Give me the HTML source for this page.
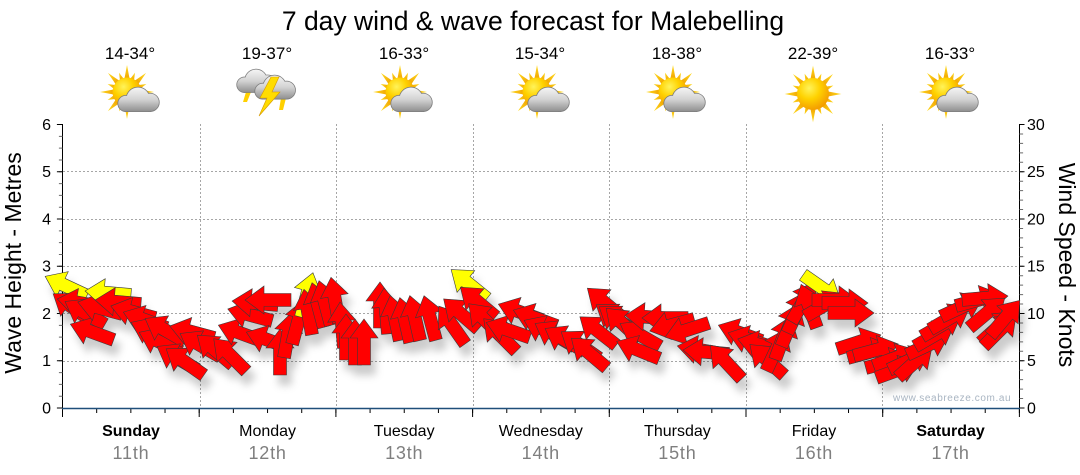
<!DOCTYPE html>
<html>
<head>
<meta charset="utf-8">
<style>
html,body{margin:0;padding:0;background:#fff;}
svg{display:block;}
text{font-family:"Liberation Sans",Arial,sans-serif;}
</style>
</head>
<body>
<svg width="1080" height="475" viewBox="0 0 1080 475" xmlns="http://www.w3.org/2000/svg">
<defs>
  <radialGradient id="sunG" cx="0.38" cy="0.32" r="0.75">
    <stop offset="0" stop-color="#fff35a"/>
    <stop offset="0.45" stop-color="#ffd200"/>
    <stop offset="1" stop-color="#f29400"/>
  </radialGradient>
  <linearGradient id="rayG" x1="0" y1="0" x2="0" y2="1">
    <stop offset="0" stop-color="#ffdc20"/>
    <stop offset="1" stop-color="#f0a000"/>
  </linearGradient>
  <linearGradient id="cloudG" gradientUnits="userSpaceOnUse" x1="0" y1="0" x2="0" y2="23">
    <stop offset="0" stop-color="#f6f6f6"/>
    <stop offset="0.5" stop-color="#d2d2d2"/>
    <stop offset="1" stop-color="#8a8a8a"/>
  </linearGradient>
  <g id="ray1"><path d="M-2.8,-12 L0,-27 L2.8,-12Z"/></g>
  <g id="ray2"><path d="M-2.4,-12 L0,-21 L2.4,-12Z"/></g>
  <g id="rays" fill="url(#rayG)">
    <use href="#ray1"/>
    <use href="#ray1" transform="rotate(45)"/>
    <use href="#ray1" transform="rotate(90)"/>
    <use href="#ray1" transform="rotate(135)"/>
    <use href="#ray1" transform="rotate(180)"/>
    <use href="#ray1" transform="rotate(225)"/>
    <use href="#ray1" transform="rotate(270)"/>
    <use href="#ray1" transform="rotate(315)"/>
    <use href="#ray2" transform="rotate(22.5)"/>
    <use href="#ray2" transform="rotate(67.5)"/>
    <use href="#ray2" transform="rotate(112.5)"/>
    <use href="#ray2" transform="rotate(157.5)"/>
    <use href="#ray2" transform="rotate(202.5)"/>
    <use href="#ray2" transform="rotate(247.5)"/>
    <use href="#ray2" transform="rotate(292.5)"/>
    <use href="#ray2" transform="rotate(337.5)"/>
  </g>
  <g id="sun">
    <use href="#rays"/>
    <circle r="14.5" fill="url(#sunG)"/>
  </g>
  <g id="cshape">
    <circle cx="9" cy="15" r="7"/>
    <circle cx="20" cy="11" r="10.5"/>
    <circle cx="31" cy="14" r="8"/>
    <rect x="9" y="13" width="22" height="9"/>
  </g>
  <g id="cloud">
    <use href="#cshape" fill="#7a7a7a" stroke="#7a7a7a" stroke-width="1.4"/>
    <use href="#cshape" fill="url(#cloudG)"/>
  </g>
  <g id="sunCloud">
    <use href="#sun" transform="translate(-4,92)"/>
    <use href="#cloud" transform="translate(-15,87) scale(1.1)"/>
  </g>
  <path id="ar" d="M-23,-6.5 L4,-6.5 L4,-14 L23,0 L4,14 L4,6.5 L-23,6.5 Z"/>
</defs>

<!-- Title -->
<text x="533" y="30" font-size="26.5" text-anchor="middle" fill="#000">7 day wind &amp; wave forecast for Malebelling</text>

<!-- Temperatures -->
<g font-size="17" text-anchor="middle" fill="#000">
  <text x="130" y="59">14-34°</text>
  <text x="267" y="59">19-37°</text>
  <text x="404" y="59">16-33°</text>
  <text x="540" y="59">15-34°</text>
  <text x="677" y="59">18-38°</text>
  <text x="813" y="59">22-39°</text>
  <text x="950" y="59">16-33°</text>
</g>

<!-- Icons -->
<use href="#sunCloud" transform="translate(131,0)"/>
<g>
  <path d="M246,92 L251,92 L247,102 L243,102Z" fill="#ffd000"/>
  <path d="M281,98 L286,98 L283,110 L279,110Z" fill="#ffd000"/>
  <use href="#cloud" transform="translate(235,69) scale(1.05,1.05)"/>
  <use href="#cloud" transform="translate(253,75) scale(1.08,1.08)"/>
  <path d="M271,77 L260,98 L267,98 L259,116 L280,92 L272,92 L279,77 Z" fill="#ffdc00" stroke="#d79a00" stroke-width="0.6"/>
</g>
<use href="#sunCloud" transform="translate(404,0)"/>
<use href="#sunCloud" transform="translate(541,0)"/>
<use href="#sunCloud" transform="translate(677,0)"/>
<g transform="translate(813,94)">
  <g transform="scale(1.05)"><use href="#rays"/></g>
  <circle r="16" fill="url(#sunG)"/>
</g>
<use href="#sunCloud" transform="translate(950,0)"/>

<!-- Grid -->
<g stroke="#a6a6a6" stroke-width="1" stroke-dasharray="2,2" fill="none">
  <line x1="63" y1="361.5" x2="1019" y2="361.5"/>
  <line x1="63" y1="313.5" x2="1019" y2="313.5"/>
  <line x1="63" y1="266.5" x2="1019" y2="266.5"/>
  <line x1="63" y1="219.5" x2="1019" y2="219.5"/>
  <line x1="63" y1="171.5" x2="1019" y2="171.5"/>
  <line x1="200.5" y1="124" x2="200.5" y2="408"/>
  <line x1="336.5" y1="124" x2="336.5" y2="408"/>
  <line x1="473.5" y1="124" x2="473.5" y2="408"/>
  <line x1="609.5" y1="124" x2="609.5" y2="408"/>
  <line x1="746.5" y1="124" x2="746.5" y2="408"/>
  <line x1="882.5" y1="124" x2="882.5" y2="408"/>
</g>

<!-- Axes -->
<line x1="62.5" y1="124" x2="62.5" y2="409" stroke="#000" stroke-width="1"/>
<line x1="1019.5" y1="124" x2="1019.5" y2="409" stroke="#000" stroke-width="1"/>
<line x1="60.7" y1="124" x2="60.7" y2="409" stroke="#6a6a6a" stroke-width="3.6" stroke-dasharray="1 10.8125"/>
<line x1="59.7" y1="124" x2="59.7" y2="409" stroke="#000" stroke-width="5.6" stroke-dasharray="1 46.25"/>
<line x1="1021.3" y1="124" x2="1021.3" y2="409" stroke="#6a6a6a" stroke-width="3.6" stroke-dasharray="1 8.45"/>
<line x1="1022" y1="124" x2="1022" y2="409" stroke="#000" stroke-width="5" stroke-dasharray="1 46.25"/>
<line x1="62" y1="410.5" x2="1021" y2="410.5" stroke="#000" stroke-width="5" stroke-dasharray="1 33.175"/>
<line x1="62" y1="412.5" x2="1021" y2="412.5" stroke="#000" stroke-width="9" stroke-dasharray="1 135.7"/>
<line x1="62" y1="408.5" x2="1020" y2="408.5" stroke="#1f4f7a" stroke-width="1.4"/>

<!-- Left axis labels -->
<g font-size="16" text-anchor="end" fill="#000">
  <text x="51" y="413.5">0</text>
  <text x="51" y="366.2">1</text>
  <text x="51" y="319">2</text>
  <text x="51" y="271.7">3</text>
  <text x="51" y="224.5">4</text>
  <text x="51" y="177.2">5</text>
  <text x="51" y="130">6</text>
</g>
<!-- Right axis labels -->
<g font-size="16" text-anchor="start" fill="#000">
  <text x="1027" y="413.5">0</text>
  <text x="1027" y="366.2">5</text>
  <text x="1027" y="319">10</text>
  <text x="1027" y="271.7">15</text>
  <text x="1027" y="224.5">20</text>
  <text x="1027" y="177.2">25</text>
  <text x="1027" y="130">30</text>
</g>

<text transform="translate(21,263) rotate(-90)" font-size="23" text-anchor="middle" fill="#000">Wave Height - Metres</text>
<text transform="translate(1059,265) rotate(90)" font-size="23" text-anchor="middle" fill="#000">Wind Speed - Knots</text>

<!-- Day labels -->
<g font-size="16" text-anchor="middle" fill="#000">
  <text x="131" y="436" font-weight="bold">Sunday</text>
  <text x="267.6" y="436">Monday</text>
  <text x="404.2" y="436">Tuesday</text>
  <text x="540.8" y="436">Wednesday</text>
  <text x="677.4" y="436">Thursday</text>
  <text x="814" y="436">Friday</text>
  <text x="950.6" y="436" font-weight="bold">Saturday</text>
</g>
<g font-size="18" text-anchor="middle" fill="#7f7f7f" letter-spacing="0.8">
  <text x="131" y="459">11th</text>
  <text x="267.6" y="459">12th</text>
  <text x="404.2" y="459">13th</text>
  <text x="540.8" y="459">14th</text>
  <text x="677.4" y="459">15th</text>
  <text x="814" y="459">16th</text>
  <text x="950.6" y="459">17th</text>
</g>

<text x="893" y="401" font-size="10" letter-spacing="0.6" fill="#a9b5c2">www.seabreeze.com.au</text>

<!-- Wind arrows -->
<g style="filter:drop-shadow(5px 10px 4px rgba(0,0,0,0.2))" stroke="#3a3a3a" stroke-width="0.6" stroke-linejoin="miter">
  <use href="#ar" fill="#ffff00" transform="translate(66,286) rotate(205)"/>
  <use href="#ar" fill="#ff0000" transform="translate(72,307) rotate(215)"/>
  <use href="#ar" fill="#ff0000" transform="translate(80,303) rotate(190)"/>
  <use href="#ar" fill="#ff0000" transform="translate(85,313) rotate(210)"/>
  <use href="#ar" fill="#ff0000" transform="translate(92,332) rotate(200)"/>
  <use href="#ar" fill="#ff0000" transform="translate(100,308) rotate(195)"/>
  <use href="#ar" fill="#ffff00" transform="translate(108,293) rotate(185)"/>
  <use href="#ar" fill="#ff0000" transform="translate(118,302) rotate(185)"/>
  <use href="#ar" fill="#ff0000" transform="translate(133,312) rotate(195)"/>
  <use href="#ar" fill="#ff0000" transform="translate(145,320) rotate(200)"/>
  <use href="#ar" fill="#ff0000" transform="translate(152,332) rotate(205)"/>
  <use href="#ar" fill="#ff0000" transform="translate(160,342) rotate(205)"/>
  <use href="#ar" fill="#ff0000" transform="translate(165,330) rotate(210)"/>
  <use href="#ar" fill="#ff0000" transform="translate(177,358) rotate(210)"/>
  <use href="#ar" fill="#ff0000" transform="translate(185,362) rotate(215)"/>
  <use href="#ar" fill="#ff0000" transform="translate(192,332) rotate(195)"/>
  <use href="#ar" fill="#ff0000" transform="translate(200,345) rotate(210)"/>
  <use href="#ar" fill="#ff0000" transform="translate(215,350) rotate(220)"/>
  <use href="#ar" fill="#ff0000" transform="translate(230,355) rotate(225)"/>
  <use href="#ar" fill="#ff0000" transform="translate(240,333) rotate(200)"/>
  <use href="#ar" fill="#ff0000" transform="translate(250,315) rotate(195)"/>
  <use href="#ar" fill="#ff0000" transform="translate(255,303) rotate(185)"/>
  <use href="#ar" fill="#ff0000" transform="translate(268,300) rotate(180)"/>
  <use href="#ar" fill="#ff0000" transform="translate(268,340) rotate(200)"/>
  <use href="#ar" fill="#ff0000" transform="translate(280,352) rotate(270)"/>
  <use href="#ar" fill="#ff0000" transform="translate(288,335) rotate(280)"/>
  <use href="#ar" fill="#ff0000" transform="translate(298,322) rotate(285)"/>
  <use href="#ar" fill="#ffff00" transform="translate(307,295) rotate(285)"/>
  <use href="#ar" fill="#ff0000" transform="translate(308,312) rotate(260)"/>
  <use href="#ar" fill="#ff0000" transform="translate(318,305) rotate(255)"/>
  <use href="#ar" fill="#ff0000" transform="translate(325,303) rotate(255)"/>
  <use href="#ar" fill="#ff0000" transform="translate(335,300) rotate(260)"/>
  <use href="#ar" fill="#ff0000" transform="translate(342,325) rotate(265)"/>
  <use href="#ar" fill="#ff0000" transform="translate(346,337) rotate(270)"/>
  <use href="#ar" fill="#ff0000" transform="translate(355,342) rotate(270)"/>
  <use href="#ar" fill="#ff0000" transform="translate(364,342) rotate(270)"/>
  <use href="#ar" fill="#ff0000" transform="translate(380,305) rotate(270)"/>
  <use href="#ar" fill="#ff0000" transform="translate(386,311) rotate(265)"/>
  <use href="#ar" fill="#ff0000" transform="translate(395,318) rotate(258)"/>
  <use href="#ar" fill="#ff0000" transform="translate(405,320) rotate(257)"/>
  <use href="#ar" fill="#ff0000" transform="translate(415,318) rotate(257)"/>
  <use href="#ar" fill="#ff0000" transform="translate(430,318) rotate(255)"/>
  <use href="#ar" fill="#ff0000" transform="translate(452,325) rotate(235)"/>
  <use href="#ar" fill="#ffff00" transform="translate(469,284) rotate(219)"/>
  <use href="#ar" fill="#ff0000" transform="translate(461,314) rotate(221)"/>
  <use href="#ar" fill="#ff0000" transform="translate(478,302) rotate(220)"/>
  <use href="#ar" fill="#ff0000" transform="translate(485,320) rotate(225)"/>
  <use href="#ar" fill="#ff0000" transform="translate(500,335) rotate(225)"/>
  <use href="#ar" fill="#ff0000" transform="translate(508,330) rotate(199)"/>
  <use href="#ar" fill="#ff0000" transform="translate(520,312) rotate(200)"/>
  <use href="#ar" fill="#ff0000" transform="translate(535,318) rotate(200)"/>
  <use href="#ar" fill="#ff0000" transform="translate(545,330) rotate(205)"/>
  <use href="#ar" fill="#ff0000" transform="translate(555,335) rotate(210)"/>
  <use href="#ar" fill="#ff0000" transform="translate(565,340) rotate(210)"/>
  <use href="#ar" fill="#ff0000" transform="translate(580,345) rotate(215)"/>
  <use href="#ar" fill="#ff0000" transform="translate(589,353) rotate(220)"/>
  <use href="#ar" fill="#ff0000" transform="translate(598,331) rotate(218)"/>
  <use href="#ar" fill="#ff0000" transform="translate(605,303) rotate(220)"/>
  <use href="#ar" fill="#ff0000" transform="translate(615,318) rotate(215)"/>
  <use href="#ar" fill="#ff0000" transform="translate(618,320) rotate(215)"/>
  <use href="#ar" fill="#ff0000" transform="translate(623,324) rotate(223)"/>
  <use href="#ar" fill="#ff0000" transform="translate(640,335) rotate(210)"/>
  <use href="#ar" fill="#ff0000" transform="translate(638,350) rotate(202)"/>
  <use href="#ar" fill="#ff0000" transform="translate(648,317) rotate(184)"/>
  <use href="#ar" fill="#ff0000" transform="translate(665,318) rotate(180)"/>
  <use href="#ar" fill="#ff0000" transform="translate(672,325) rotate(165)"/>
  <use href="#ar" fill="#ff0000" transform="translate(687,330) rotate(162)"/>
  <use href="#ar" fill="#ff0000" transform="translate(700,350) rotate(190)"/>
  <use href="#ar" fill="#ff0000" transform="translate(706,352) rotate(185)"/>
  <use href="#ar" fill="#ff0000" transform="translate(726,362) rotate(227)"/>
  <use href="#ar" fill="#ff0000" transform="translate(740,333) rotate(200)"/>
  <use href="#ar" fill="#ff0000" transform="translate(750,340) rotate(198)"/>
  <use href="#ar" fill="#ff0000" transform="translate(760,345) rotate(195)"/>
  <use href="#ar" fill="#ff0000" transform="translate(767,360) rotate(222)"/>
  <use href="#ar" fill="#ff0000" transform="translate(776,350) rotate(295)"/>
  <use href="#ar" fill="#ff0000" transform="translate(783,338) rotate(290)"/>
  <use href="#ar" fill="#ff0000" transform="translate(790,325) rotate(292)"/>
  <use href="#ar" fill="#ff0000" transform="translate(797,312) rotate(295)"/>
  <use href="#ar" fill="#ff0000" transform="translate(803,302) rotate(300)"/>
  <use href="#ar" fill="#ff0000" transform="translate(809,306) rotate(250)"/>
  <use href="#ar" fill="#ffff00" transform="translate(822,288) rotate(35)"/>
  <use href="#ar" fill="#ff0000" transform="translate(825,305) rotate(330)"/>
  <use href="#ar" fill="#ff0000" transform="translate(835,300) rotate(0)"/>
  <use href="#ar" fill="#ff0000" transform="translate(845,303) rotate(0)"/>
  <use href="#ar" fill="#ff0000" transform="translate(851,313) rotate(0)"/>
  <use href="#ar" fill="#ff0000" transform="translate(859,342) rotate(342)"/>
  <use href="#ar" fill="#ff0000" transform="translate(870,352) rotate(345)"/>
  <use href="#ar" fill="#ff0000" transform="translate(876,350) rotate(345)"/>
  <use href="#ar" fill="#ff0000" transform="translate(888,362) rotate(345)"/>
  <use href="#ar" fill="#ff0000" transform="translate(895,358) rotate(340)"/>
  <use href="#ar" fill="#ff0000" transform="translate(898,370) rotate(340)"/>
  <use href="#ar" fill="#ff0000" transform="translate(910,360) rotate(335)"/>
  <use href="#ar" fill="#ff0000" transform="translate(915,362) rotate(318)"/>
  <use href="#ar" fill="#ff0000" transform="translate(928,345) rotate(335)"/>
  <use href="#ar" fill="#ff0000" transform="translate(935,335) rotate(330)"/>
  <use href="#ar" fill="#ff0000" transform="translate(942,325) rotate(330)"/>
  <use href="#ar" fill="#ff0000" transform="translate(950,318) rotate(330)"/>
  <use href="#ar" fill="#ff0000" transform="translate(962,307) rotate(335)"/>
  <use href="#ar" fill="#ff0000" transform="translate(978,300) rotate(345)"/>
  <use href="#ar" fill="#ff0000" transform="translate(985,298) rotate(355)"/>
  <use href="#ar" fill="#ff0000" transform="translate(987,313) rotate(320)"/>
  <use href="#ar" fill="#ff0000" transform="translate(998,327) rotate(318)"/>
  <use href="#ar" fill="#ff0000" transform="translate(1000,330) rotate(315)"/>
  <use href="#ar" fill="#ff0000" transform="translate(1005,318) rotate(310)"/>
</g>
</svg>
</body>
</html>
